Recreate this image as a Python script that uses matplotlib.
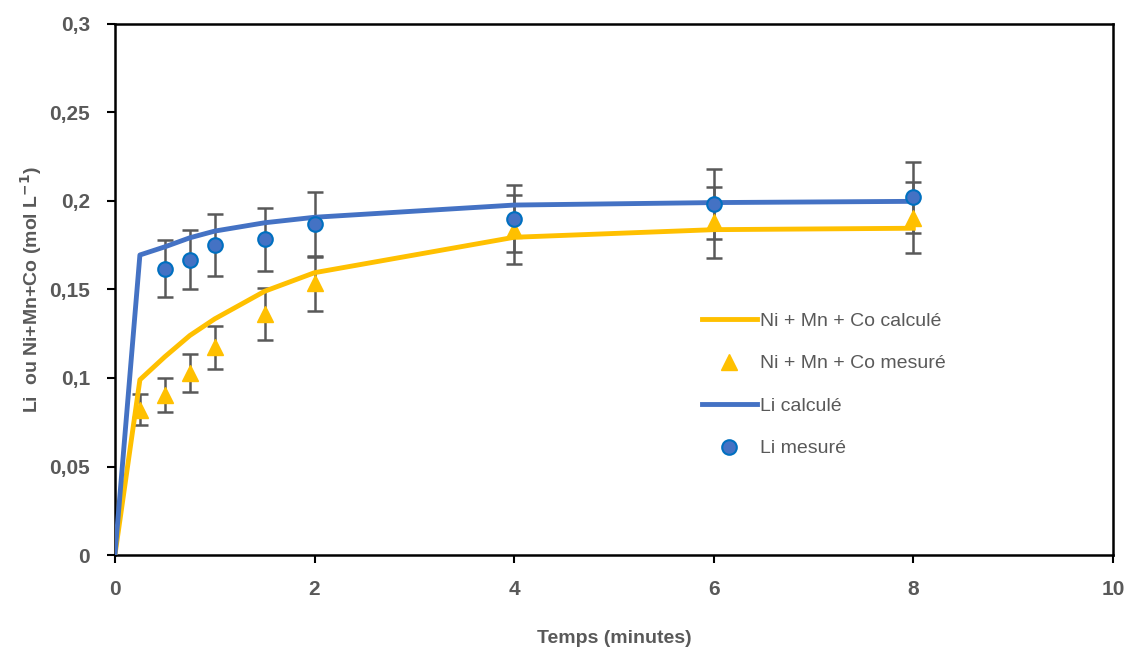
import matplotlib.pyplot as plt
import numpy as np

# temps (minutes)
t_calc = [0, 0.25, 0.5, 0.75, 1, 1.5, 2, 4, 6, 8]
t_mes_ni = [0.25, 0.5, 0.75, 1, 1.5, 2, 4, 6, 8]
t_mes_li = [0.5, 0.75, 1, 1.5, 2, 4, 6, 8]

# valeurs calculees
ni_calc = [0, 0.099, 0.112, 0.124, 0.1334, 0.149, 0.1595, 0.1795, 0.1838, 0.1846]
li_calc = [0, 0.1695, 0.1741, 0.1792, 0.183, 0.1877, 0.1908, 0.1977, 0.1991, 0.1998]

# valeurs mesurees + erreurs
ni_mes = [0.082, 0.0905, 0.1028, 0.1173, 0.1362, 0.1535, 0.1838, 0.188, 0.1906]
ni_err = [0.0087, 0.0096, 0.0109, 0.0123, 0.0145, 0.0156, 0.0195, 0.02, 0.0202]
li_mes = [0.1617, 0.1668, 0.1751, 0.1783, 0.1868, 0.1899, 0.1982, 0.202]
li_err = [0.0162, 0.0167, 0.0175, 0.0177, 0.0185, 0.019, 0.0198, 0.0201]

grey = "#595959"
blue = "#4472C4"
yellow = "#FFC000"

plt.rcParams['font.family'] = ['Liberation Sans', 'DejaVu Sans']

fig = plt.figure(figsize=(11.27, 6.48), dpi=100)
ax = fig.add_axes([0.102, 0.1435, 0.8855, 0.8195])

ax.errorbar(t_mes_ni, ni_mes, yerr=ni_err, fmt="none", ecolor=grey,
            elinewidth=1.8, capsize=6, capthick=1.8, zorder=2)
ax.errorbar(t_mes_li, li_mes, yerr=li_err, fmt="none", ecolor=grey,
            elinewidth=1.8, capsize=6, capthick=1.8, zorder=2)

ax.plot(t_calc, ni_calc, color=yellow, lw=3.5, label="Ni + Mn + Co calculé", zorder=3)
ax.plot(t_mes_ni, ni_mes, linestyle="None", marker="^", ms=11.5, color=yellow,
        mec=yellow, label="Ni + Mn + Co mesuré", zorder=4)
ax.plot(t_calc, li_calc, color=blue, lw=3.5, label="Li calculé", zorder=3)
ax.plot(t_mes_li, li_mes, linestyle="None", marker="o", ms=10.5, color=blue,
        mec="#0070C0", mew=1.5, label="Li mesuré", zorder=5)

ax.set_xlim(0, 10)
ax.set_ylim(0, 0.3)
ax.set_xticks(np.arange(0, 11, 2))
ax.set_yticks(np.arange(0, 0.31, 0.05))
ax.set_xticklabels(["0", "2", "4", "6", "8", "10"])
ax.set_yticklabels(["0", "0,05", "0,1", "0,15", "0,2", "0,25", "0,3"])

for s in ax.spines.values():
    s.set_linewidth(1.8)
    s.set_color("black")
ax.tick_params(direction="out", length=6, width=1.5, color="black",
               labelcolor=grey, labelsize=15, pad=12)
for lab in ax.get_xticklabels() + ax.get_yticklabels():
    lab.set_fontweight("bold")

ax.set_xlabel("Temps (minutes)", fontsize=14, fontweight="bold", color=grey, labelpad=22)
ax.set_ylabel("Li  ou Ni+Mn+Co (mol L$^{\\mathbf{-1}}$)", fontsize=14,
              fontweight="bold", color=grey, labelpad=4)

leg = ax.legend(loc="upper left", bbox_to_anchor=(0.588, 0.457), frameon=False,
                fontsize=14, labelspacing=1.28, handlelength=2.85,
                handletextpad=0.15, borderaxespad=0, borderpad=0)
for txt in leg.get_texts():
    txt.set_color(grey)

fig.savefig("out.png", dpi=100)
